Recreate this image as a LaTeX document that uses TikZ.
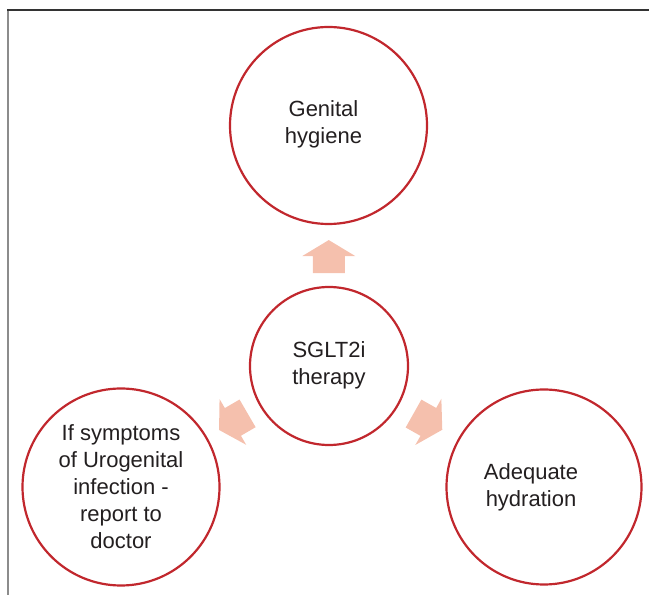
\documentclass[tikz,border=0pt]{standalone}
\usepackage{fontspec}
\setmainfont{Liberation Sans}
\usetikzlibrary{calc}
\definecolor{ringred}{HTML}{C1272D}
\definecolor{arrowpink}{HTML}{F5C0AD}
\definecolor{textdark}{HTML}{231F20}
\tikzset{
  ring/.style={circle, draw=ringred, line width=2.2pt, fill=white, inner sep=0pt},
  ringtext/.style={align=center, text=textdark, inner sep=0pt, font=\fontsize{22}{27}\selectfont},
  blockarrow/.pic={\fill[arrowpink] (-16.5,-16) -- (0.5,-16) -- (0.5,-26.5) -- (16.5,0)
      -- (0.5,26.5) -- (0.5,16) -- (-16.5,16) -- cycle;},
  frametop/.style={draw=black!80, line width=1.6pt},
  frameleft/.style={draw=black!45, line width=1.8pt}
}
\begin{document}
\begin{tikzpicture}[x=1pt,y=1pt]
\useasboundingbox (0,0) rectangle (649,595);
\coordinate (fl) at (8,0);
\coordinate (fc) at (8,585);
\coordinate (fr) at (649,585);
\draw[frameleft] (fl) -- (fc);
\draw[frametop] ([xshift=-0.9pt]fc) -- (fr);
\node[ring, minimum size=197pt] (top) at (328.5,469.5) {};
\node[ring, minimum size=158pt] (mid) at (329,229) {};
\node[ring, minimum size=197pt] (left) at (121,108) {};
\node[ring, minimum size=195pt] (right) at (544,108) {};
\node[ringtext] (toptext) at ([xshift=-5pt,yshift=1pt]top.center) {Genital\\hygiene};
\node[ringtext] (midtext) at ([yshift=1pt]mid.center) {SGLT2i\\therapy};
\node[ringtext] (lefttext) at ([yshift=0pt]left.center) {If symptoms\\of Urogenital\\infection -\\report to\\doctor};
\node[ringtext] (righttext) at ([xshift=-13pt]right.center) {Adequate\\hydration};
\pic[rotate=90] at ($(mid.center)!0.455!(top.center)$) {blockarrow};
\pic[rotate=210.2] at ($(mid.center)!0.46!(left.center)$) {blockarrow};
\pic[rotate=-29.4] at ($(mid.center)!0.46!(right.center)$) {blockarrow};
\end{tikzpicture}
\end{document}
